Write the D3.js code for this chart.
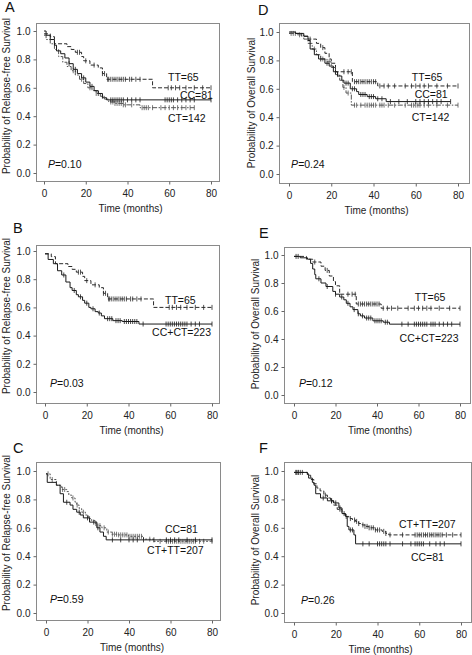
<!DOCTYPE html>
<html><head><meta charset="utf-8">
<script src="https://cdn.jsdelivr.net/npm/d3@7/dist/d3.min.js"></script>
<style>body{margin:0;background:#fff}svg{display:block;font-family:"Liberation Sans",Arial,sans-serif}</style>
</head><body><svg id="c" width="472" height="655"></svg>
<script>
// ---------- tick labels ----------
const xTicks = [0, 20, 40, 60, 80];
const yTicks = [0, 0.2, 0.4, 0.6, 0.8, 1.0];

// ---------- data: Kaplan-Meier steps [month, survival], censor months ----------
// Relapse-free survival
const A_TT_steps = [[0,0.98],[3,0.96],[5,0.91],[11,0.89],[13,0.87],[15,0.85],[18,0.82],[19,0.79],[22,0.76],[26,0.74],[28,0.70],[30,0.66],[52,0.60]];
const A_TT_cens = [16,17,20,24,28,29,30.5,31,32,33,34,35,36,37,38,39,41,42,44,46,59.5,61,63,65,68,72,76,80];
const A_CC_steps = [[0,1.0],[1,0.97],[3,0.94],[5,0.90],[6,0.86],[8,0.84],[10,0.81],[12,0.77],[14,0.73],[16,0.70],[18,0.67],[20,0.64],[22,0.61],[24,0.58],[26,0.56],[28,0.53],[30,0.515]];
const A_CC_cens = [12,15,19,23,26,32,33,34,35,36,37,38,40,42,44,46,58,59,60,61,62,64,66,68,70,72,80];
const A_CT_steps = [[0,0.97],[1,0.94],[3,0.91],[5,0.87],[7,0.82],[9,0.78],[11,0.75],[13,0.72],[15,0.69],[17,0.66],[19,0.63],[21,0.60],[23,0.58],[25,0.56],[27,0.54],[29,0.52],[31,0.50],[34,0.49],[38,0.48],[46,0.46]];
const A_CT_cens = [14,18,22,25,28,32,33,34,35,36,37,38,39,42,47,48,49,50,52,56,58,60,62,64,66,68,70,72];

const B_CCCT_steps = [[0,0.98],[1.5,0.94],[4,0.91],[6,0.86],[8,0.83],[10,0.78],[12,0.74],[13,0.72],[15,0.69],[16,0.675],[18,0.65],[19,0.63],[21,0.60],[22,0.59],[24,0.57],[25.5,0.56],[27,0.54],[28.5,0.52],[32.5,0.506],[37,0.50],[45,0.482]];
const B_CCCT_cens = [9,14,17,20,23,26,30,31,32,34,35,36,38,39,40,41,42,43,44,47,58,59,60,61,62,63,64,65,66,67,68,70,72,74,80];

const C_CC_steps = [[0,0.98],[0.6,0.92],[5,0.90],[6.8,0.84],[8.4,0.78],[11.6,0.76],[13,0.73],[14.8,0.71],[16.5,0.69],[18,0.67],[21,0.64],[24.5,0.60],[26,0.57],[27.7,0.54],[29,0.515]];
const C_CC_cens = [10,16,20,23,25,32,36,40,42,44,47,52,58,60,62,64,68,72,80];
const C_CTTT_steps = [[0,0.98],[2,0.94],[5,0.90],[7.6,0.87],[10,0.855],[11,0.83],[12.4,0.81],[14,0.78],[14.8,0.76],[16,0.735],[17.2,0.71],[19,0.69],[20.4,0.665],[22,0.65],[23.7,0.63],[25,0.615],[26.9,0.60],[29.3,0.57],[31.7,0.555],[34.1,0.55],[39.8,0.54],[47,0.52],[51.8,0.505]];
const C_CTTT_cens = [1,3,8,9,13,15,18,21,24,26,28,30,32,33,34,35,36,37,38,39,40,41,42,43,44,45,46,50,55,58,59,60,61,62,63,64,65,66,67,68,69,70,71,72,74,76,80];

// Overall survival
const D_TT_steps = [[0,0.99],[6,0.97],[9,0.95],[13,0.92],[15,0.89],[17,0.85],[19,0.81],[20,0.78],[22,0.72],[30,0.65],[42,0.62]];
const D_TT_cens = [10,16,26,28,29.5,31,32,33,34,35,36,37,38,39,40,41,43,45,47,50,55,58,60,62,64,66,70,75,80];
const D_CC_steps = [[0,1.0],[3,0.99],[7,0.97],[9,0.94],[10,0.88],[12,0.84],[14,0.81],[17,0.78],[19,0.76],[21,0.72],[23,0.69],[25,0.66],[26,0.64],[29,0.60],[32,0.58],[33,0.56],[37,0.545],[41,0.53],[46,0.51]];
const D_CC_cens = [15,18,22,27,28,30,31,34,35,36,38,39,40,42,44,48,52,56,60,62,64,66,68,70,72,76.5];
const D_CT_steps = [[0,0.99],[4,0.98],[7,0.95],[9,0.92],[11,0.88],[13,0.84],[15,0.81],[18,0.79],[20,0.75],[22,0.70],[24,0.66],[25.5,0.61],[27,0.57],[29.5,0.485]];
const D_CT_cens = [1,2,3,5,12,16,19,23,26,28,31,32,34,36,37,38,39,40,41,43,44,45,47,50,55,58,59,60,61,62,64,66,70,75,80];

const E_CCCT_steps = [[0,0.99],[3,0.98],[6.5,0.97],[8,0.94],[9,0.90],[10,0.86],[10.5,0.83],[13,0.80],[15.4,0.775],[18.7,0.74],[20,0.72],[22,0.70],[24,0.68],[25.2,0.655],[27,0.63],[28.4,0.61],[30.8,0.58],[32,0.565],[34,0.55],[38,0.53],[43,0.52],[46,0.506]];
const E_CCCT_cens = [1,2,12,16,20,23,26,29,31,33,35,36,37,39,40,41,42,44,45,52,55,58,59,60,61,62,63,64,66,67,68,70,72,74,76,80];

const F_CC_steps = [[0,0.99],[6.4,0.98],[7,0.95],[8.8,0.92],[9.6,0.90],[10.4,0.84],[12.7,0.81],[16,0.79],[19,0.775],[21.5,0.74],[23,0.70],[24.7,0.68],[25.5,0.61],[26.3,0.585],[28.7,0.55],[29.5,0.487]];
const F_CC_cens = [1,2,3,14,18,20,22,24,27,28,33,36,40,41,42,43,44,46,52,56,58,59,60,61,62,65,68,70,72,80];
const F_CTTT_steps = [[0,0.99],[6.4,0.97],[8,0.94],[9.5,0.91],[11,0.88],[12.5,0.86],[14.3,0.83],[16,0.81],[17.5,0.79],[19,0.76],[20.7,0.73],[23,0.70],[24.5,0.68],[26.3,0.665],[28,0.655],[29.5,0.645],[31,0.63],[32.7,0.62],[34,0.61],[35.9,0.60],[39,0.585],[42.2,0.575],[44,0.56],[45.4,0.55]];
const F_CTTT_cens = [1,2,4,15,18,22,25,27,29,30,31,33,34,35,36,37,38,39,40,41,43,44,46,52,58,59,60,61,62,63,64,65,66,67,68,69,70,71,73,76,80];

// ---------- styles ----------
const STY = {
  solid:  {stroke:"#1a1a1a", dash:null},
  dashed: {stroke:"#2a2a2a", dash:"4,2"},
  dashdot:{stroke:"#555", dash:"5,1.5,1.5,1.5"},
  dotted: {stroke:"#555", dash:"2,1.5"}
};

// ---------- layout ----------
const RFS = "Probability of Relapse-free Survival";
const OS = "Probability of Overall Survival";
const panels = [
  {letter:"A", lp:[5,12], frame:[36,23,219,181], xr:[44,211], yr:[31,173], ytitle:RFS, yt:[9.5,96],
   curves:[
     {steps:A_TT_steps, end:80, cens:A_TT_cens, s:"dashed"},
     {steps:A_CT_steps, end:72, cens:A_CT_cens, s:"dashdot"},
     {steps:A_CC_steps, end:80, cens:A_CC_cens, s:"solid"}],
   labels:[["TT=65",59.4,0.648],["CC=81",65.1,0.521],["CT=142",59.4,0.359]], p:["0.10",1.9,0.035]},
  {letter:"D", lp:[258,15], frame:[279,23,469,183], xr:[289,458], yr:[32,174], ytitle:OS, yt:[254.5,103],
   curves:[
     {steps:D_TT_steps, end:80, cens:D_TT_cens, s:"dashed"},
     {steps:D_CT_steps, end:80, cens:D_CT_cens, s:"dashdot"},
     {steps:D_CC_steps, end:76.5, cens:D_CC_cens, s:"solid"}],
   labels:[["TT=65",58.1,0.655],["CC=81",59.5,0.535],["CT=142",58.1,0.373]], p:["0.24",1,0.042]},
  {letter:"B", lp:[13,233], frame:[36,245,219,403], xr:[45,212], yr:[251,392], ytitle:RFS, yt:[9.5,316],
   curves:[
     {steps:A_TT_steps, end:80, cens:A_TT_cens, s:"dashed"},
     {steps:B_CCCT_steps, end:80, cens:B_CCCT_cens, s:"solid"}],
   labels:[["TT=65",57.5,0.624],["CC+CT=223",51.3,0.395]], p:["0.03",2.4,0.035]},
  {letter:"E", lp:[259,238], frame:[284,247,470,403], xr:[294,460], yr:[255,395], ytitle:OS, yt:[258.5,324],
   curves:[
     {steps:D_TT_steps, end:80, cens:D_TT_cens, s:"dashed"},
     {steps:E_CCCT_steps, end:80, cens:E_CCCT_cens, s:"solid"}],
   labels:[["TT=65",58.2,0.671],["CC+CT=223",50.9,0.379]], p:["0.12",2.4,0.057]},
  {letter:"C", lp:[13,453], frame:[36,462,220,620], xr:[46,212], yr:[471,613], ytitle:RFS, yt:[9.5,533],
   curves:[
     {steps:C_CTTT_steps, end:80, cens:C_CTTT_cens, s:"dotted"},
     {steps:C_CC_steps, end:80, cens:C_CC_cens, s:"solid"}],
   labels:[["CC=81",57.3,0.563],["CT+TT=207",48.7,0.415]], p:["0.59",1.9,0.07]},
  {letter:"F", lp:[259,453], frame:[284,462,471,622], xr:[294,461], yr:[471,613], ytitle:OS, yt:[258.5,540],
   curves:[
     {steps:F_CTTT_steps, end:80, cens:F_CTTT_cens, s:"dashed"},
     {steps:F_CC_steps, end:80, cens:F_CC_cens, s:"solid"}],
   labels:[["CT+TT=207",50.3,0.599],["CC=81",56,0.366]], p:["0.26",3.4,0.063]}
];

const svg = d3.select("#c");
const fmt = d3.format(".1f");

function survAt(steps, t){
  let s = steps[0][1];
  for (const [tt, ss] of steps){ if (tt <= t) s = ss; else break; }
  return s;
}

panels.forEach(P => {
  const g = svg.append("g");
  const [fx0, fy0, fx1, fy1] = P.frame;
  const x = d3.scaleLinear().domain([0, 80]).range(P.xr);
  const y = d3.scaleLinear().domain([1, 0]).range(P.yr);

  // panel letter
  g.append("text").attr("x", P.lp[0]).attr("y", P.lp[1]).attr("font-size", 14.5).attr("fill", "#111").text(P.letter);

  // frame
  g.append("rect").attr("x", fx0 + 0.5).attr("y", fy0 + 0.5).attr("width", fx1 - fx0).attr("height", fy1 - fy0)
    .attr("fill", "none").attr("stroke", "#8a8a8a").attr("stroke-width", 1);

  // axes
  const ay = g.append("g").attr("transform", `translate(${fx0 + 0.5},0)`)
    .call(d3.axisLeft(y).tickValues(yTicks).tickSize(3).tickPadding(3).tickFormat(fmt));
  const ax = g.append("g").attr("transform", `translate(0,${fy1 + 0.5})`)
    .call(d3.axisBottom(x).tickValues(xTicks).tickSize(3).tickPadding(5));
  [ay, ax].forEach(a => {
    a.select(".domain").remove();
    a.selectAll("line").attr("stroke", "#666");
    a.selectAll("text").attr("font-size", 10).attr("fill", "#222").attr("font-family", null);
  });

  // axis titles
  g.append("text").attr("x", (P.xr[0] + P.xr[1]) / 2 + 3).attr("y", fy1 + 31)
    .attr("text-anchor", "middle").attr("font-size", 10).attr("fill", "#222").text("Time (months)");
  g.append("text").attr("transform", `translate(${P.yt[0]},${P.yt[1]}) rotate(-90)`)
    .attr("text-anchor", "middle").attr("font-size", 10).attr("fill", "#222").text(P.ytitle);

  // curves
  const line = d3.line().x(d => x(d[0])).y(d => y(d[1])).curve(d3.curveStepAfter);
  P.curves.forEach(c => {
    const st = STY[c.s];
    const pts = c.steps.concat([[c.end, c.steps[c.steps.length - 1][1]]]);
    g.append("path").attr("d", line(pts)).attr("fill", "none").attr("stroke", st.stroke)
      .attr("stroke-width", 1).attr("stroke-dasharray", st.dash);
    g.append("g").selectAll("line").data(c.cens).join("line")
      .attr("x1", d => x(d)).attr("x2", d => x(d))
      .attr("y1", d => y(survAt(c.steps, d)) - 2.5).attr("y2", d => y(survAt(c.steps, d)) + 2.5)
      .attr("stroke", st.stroke).attr("stroke-width", 0.8);
  });

  // group labels
  P.labels.forEach(([txt, t, s]) => {
    g.append("text").attr("x", x(t)).attr("y", y(s)).attr("font-size", 10.5).attr("fill", "#111").text(txt);
  });
  const pt = g.append("text").attr("x", x(P.p[1])).attr("y", y(P.p[2])).attr("font-size", 10.5).attr("fill", "#111");
  pt.append("tspan").attr("font-style", "italic").text("P");
  pt.append("tspan").text("=" + P.p[0]);
});
</script></body></html>
